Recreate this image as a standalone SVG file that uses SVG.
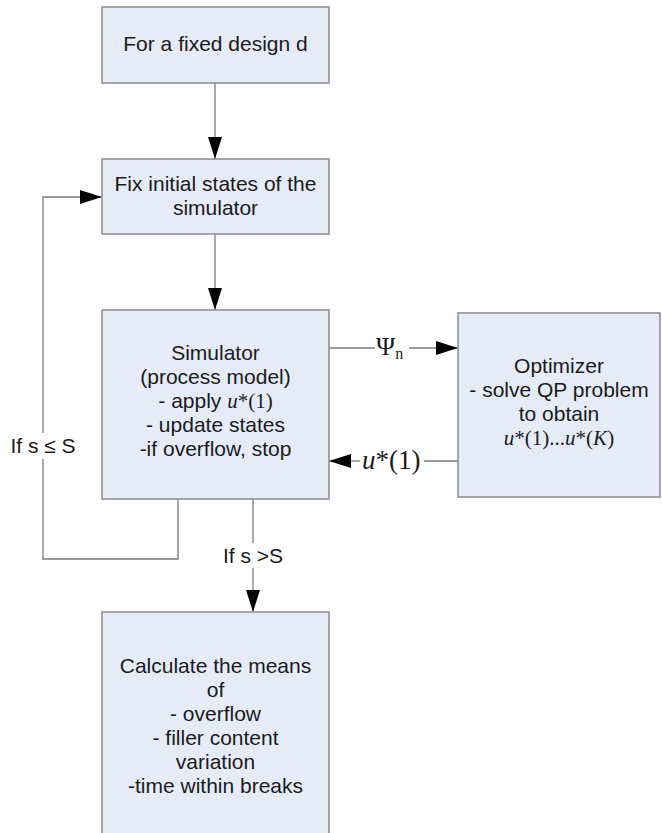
<svg xmlns="http://www.w3.org/2000/svg" width="662" height="833" viewBox="0 0 662 833">
<defs>
<marker id="arr" markerUnits="userSpaceOnUse" markerWidth="22" markerHeight="14" refX="22" refY="7" orient="auto">
<path d="M0,0 L22,7 L0,14 z" fill="#000"/>
</marker>
<style>
.box{fill:#E6ECF7;stroke:#8a8a8a;stroke-width:1.5}
.t{font-family:"Liberation Sans",Arial,sans-serif;font-size:21px;fill:#1a1a1a;text-anchor:middle}
.m{font-family:"Liberation Serif","Times New Roman",serif;fill:#1a1a1a}
.c{fill:none;stroke:#7a7a7a;stroke-width:1.3}
</style>
</defs>
<rect width="662" height="833" fill="#fff"/>
<g id="connectors">
<line class="c" x1="215" y1="83" x2="215" y2="159" marker-end="url(#arr)"/>
<line class="c" x1="215" y1="234" x2="215" y2="310" marker-end="url(#arr)"/>
<line class="c" x1="329" y1="348" x2="375" y2="348"/>
<line class="c" x1="409" y1="348" x2="458" y2="348" marker-end="url(#arr)"/>
<line class="c" x1="458" y1="461" x2="424" y2="461"/>
<line class="c" x1="360" y1="461" x2="329" y2="461" marker-end="url(#arr)"/>
<line class="c" x1="253" y1="499" x2="253" y2="543"/>
<line class="c" x1="253" y1="568" x2="253" y2="612" marker-end="url(#arr)"/>
<polyline class="c" points="178,499 178,559 43,559 43,459"/>
<polyline class="c" points="43,433 43,197 102,197" marker-end="url(#arr)"/>
<text class="t" x="253" y="563">If s &gt;S</text>
<text class="t" x="43" y="453">If s ≤ S</text>
<text class="m" x="376" y="355" font-size="26">Ψ<tspan font-size="16" dy="4">n</tspan></text>
<text class="m" x="362" y="469" font-size="27"><tspan font-style="italic">u</tspan>*(1)</text>
</g>
<g id="n1">
<rect class="box" x="102" y="7" width="227" height="76"/>
<text class="t" x="215.5" y="51">For a fixed design d</text>
</g>
<g id="n2">
<rect class="box" x="102" y="159" width="227" height="75"/>
<text class="t" x="215.5" y="191">Fix initial states of the</text>
<text class="t" x="215.5" y="215">simulator</text>
</g>
<g id="n3">
<rect class="box" x="102" y="310" width="227" height="189"/>
<text class="t" x="215.5" y="360">Simulator</text>
<text class="t" x="215.5" y="384">(process model)</text>
<text class="t" x="215.5" y="408">- apply <tspan class="m" font-style="italic">u</tspan><tspan class="m">*(1)</tspan></text>
<text class="t" x="215.5" y="432">- update states</text>
<text class="t" x="215.5" y="456">-if overflow, stop</text>
</g>
<g id="n4">
<rect class="box" x="458" y="313" width="202" height="184"/>
<text class="t" x="559" y="373">Optimizer</text>
<text class="t" x="559" y="397">- solve QP problem</text>
<text class="t" x="559" y="421">to obtain</text>
<text class="m" x="559" y="445" font-size="21" text-anchor="middle"><tspan font-style="italic">u</tspan>*(1)...<tspan font-style="italic">u</tspan>*(<tspan font-style="italic">K</tspan>)</text>
</g>
<g id="n5">
<rect class="box" x="102" y="612" width="227" height="230"/>
<text class="t" x="215.5" y="673">Calculate the means</text>
<text class="t" x="215.5" y="697">of</text>
<text class="t" x="215.5" y="721">- overflow</text>
<text class="t" x="215.5" y="745">- filler content</text>
<text class="t" x="215.5" y="769">variation</text>
<text class="t" x="215.5" y="793">-time within breaks</text>
</g>
</svg>
